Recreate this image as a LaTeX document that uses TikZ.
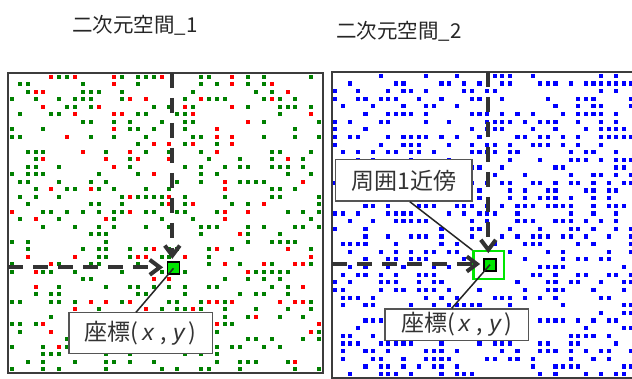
\documentclass[tikz,border=0pt]{standalone}
\usepackage{fontspec}
\setmainfont{Noto Sans CJK JP}
\newfontfamily\lsans{Liberation Sans}
\usetikzlibrary{arrows.meta}
\definecolor{dgreen}{RGB}{0,128,0}
\definecolor{myred}{RGB}{255,0,0}
\definecolor{myblue}{RGB}{0,0,255}
\definecolor{hlgreen}{RGB}{0,230,0}
\definecolor{ink}{RGB}{51,51,51}
\definecolor{framegray}{RGB}{60,60,60}
\definecolor{boxgray}{RGB}{85,85,85}
\newcommand{\itv}[1]{{\lsans\itshape #1}}
\begin{document}
\begin{tikzpicture}[x=1pt,y=-1pt,
  frame/.style={draw=framegray, line width=1.8pt},
  dashline/.style={draw=ink, line width=4pt, dash pattern=on 15pt off 10pt,
    -{Straight Barb[length=10pt,width=15pt]}},
  callout/.style={draw=boxgray, fill=white, line width=1.2pt, inner sep=0pt,
    font=\fontsize{23}{27}\selectfont, text=ink},
  leader/.style={draw=black!85, line width=1.5pt},
  title/.style={font=\fontsize{20.5}{24}\selectfont, text=black!85},
  selsq/.style={draw=black, line width=1.8pt, fill=hlgreen, minimum size=12pt, inner sep=0pt},
  nbhd/.style={draw=hlgreen, fill=white, line width=2.2pt, minimum width=30.5pt, minimum height=27.5pt, inner sep=0pt}]
\useasboundingbox (0,0) rectangle (632,379);
\fill[white] (0,0) rectangle (632,379);

% titles
\node[title] (t1) at (135,25) {二次元空間\_1};
\node[title] (t2) at (399,31) {二次元空間\_2};

% left random dots
\pgfmathsetseed{4242}
\foreach \i in {0,...,39}{
  \foreach \j in {0,...,39}{
    \pgfmathsetmacro{\r}{rnd}
    \pgfmathsetmacro{\cx}{11.94+7.875*\i}
    \pgfmathsetmacro{\cy}{76.75+7.5*\j}
    \ifdim\r pt<0.22pt
      \fill[dgreen] (\cx-2,\cy-2) rectangle (\cx+2,\cy+2);
    \else\ifdim\r pt<0.29pt
      \fill[myred] (\cx-2,\cy-2) rectangle (\cx+2,\cy+2);
    \fi\fi
  }
}
% right random dots
\begin{scope}
\clip (0,0) rectangle (632,379);
\foreach \i in {0,...,39}{
  \foreach \j in {0,...,39}{
    \pgfmathsetmacro{\r}{rnd}
    \pgfmathsetmacro{\cx}{335+7.6*\i}
    \pgfmathsetmacro{\cy}{75.8+7.65*\j}
    \ifdim\r pt<0.38pt
      \fill[myblue] (\cx-2.1,\cy-2.1) rectangle (\cx+2.1,\cy+2.1);
    \fi
  }
}
\draw[frame] (332,72) rectangle (636,378);
\end{scope}
\draw[frame] (8,73) rectangle (323,373);

% left panel highlight
\node[selsq] (sqL) at (173.5,268.3) {};
\coordinate (topL) at (172.3,73);
\coordinate (leftL) at (8,267.3);
\draw[dashline, shorten >=2.5pt] (topL) -- (topL |- sqL.north);
\draw[dashline, shorten >=3.5pt] (leftL) -- (leftL -| sqL.west);

% right panel highlight
\node[nbhd] (nbR) at (488.7,265) {};
\coordinate (topR) at (488.3,72);
\coordinate (leftR) at (332,264);
\draw[dashline] (topR) -- ([yshift=-3pt]topR |- nbR.north);
\node[selsq] (sqR) at (490,264.7) {};
\draw[dashline, shorten >=3pt] (leftR) -- (leftR -| sqR.west);

% callouts
\node[callout, minimum width=143.2pt, minimum height=40.8pt] (boxL) at (140.5,333.3)
  {座標(\,\itv{x}\;,\;\itv{y}\,)};
\node[callout, minimum width=143.5pt, minimum height=31.5pt] (boxR) at (456.7,324.7)
  {座標(\,\itv{x}\;,\;\itv{y}\,)};
\node[callout, minimum width=136.5pt, minimum height=41.2pt] (boxN) at (403.8,180.5)
  {周囲1近傍};

\draw[leader] ([xshift=-4.5pt]boxL.north) -- (sqL.center);
\draw[leader] ([xshift=-5pt]boxR.north) -- (sqR.center);
\draw[leader] ([xshift=6pt]boxN.south) -- (nbR.north west);
\end{tikzpicture}
\end{document}
